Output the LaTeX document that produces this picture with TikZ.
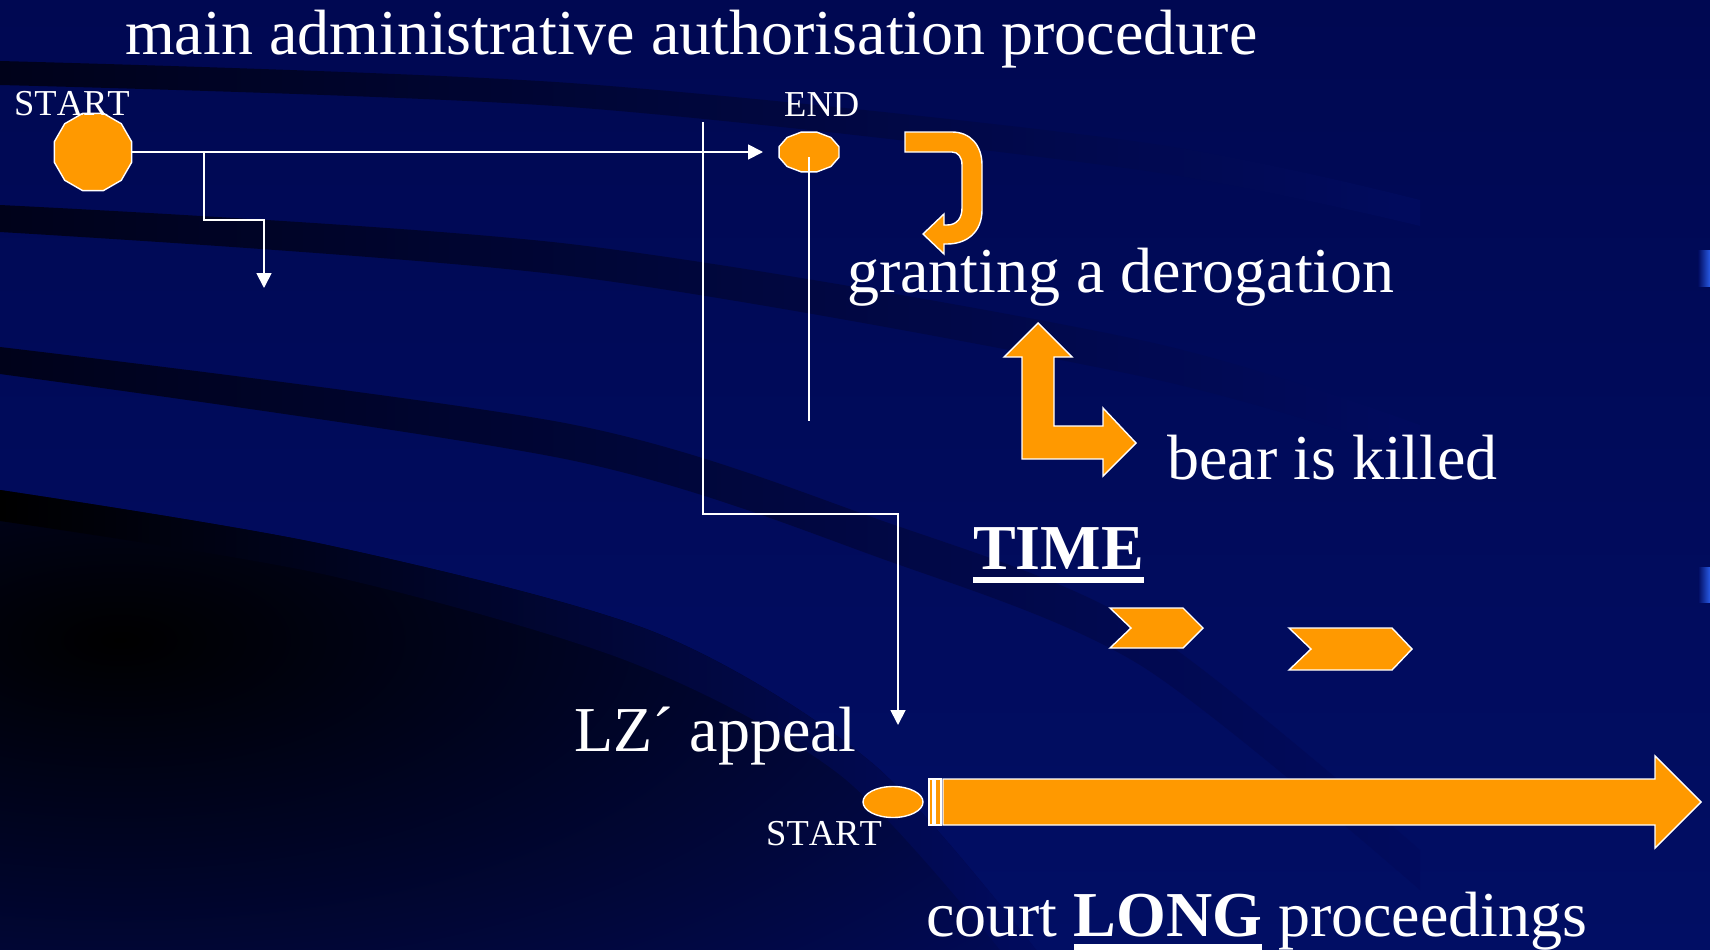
\documentclass[tikz,border=0pt]{standalone}
\usepackage{fontspec}
\setmainfont{Liberation Serif}
\newfontfamily\nokernfont[Kerning=Off]{Liberation Serif}
\usetikzlibrary{arrows.meta,calc,shapes.geometric}
\definecolor{bg}{RGB}{1,11,94}
\definecolor{bgtop}{RGB}{0,8,82}
\definecolor{bgbot}{RGB}{1,14,100}
\definecolor{dark}{RGB}{0,2,26}
\definecolor{org}{RGB}{255,153,0}
\definecolor{edgeblue}{RGB}{40,90,230}
\newcommand\myul[1]{\setbox0\hbox{#1}\rlap{\rule[-14pt]{\wd0}{6pt}}\box0\relax}
\begin{document}
\begin{tikzpicture}[x=1pt,y=-1pt,
  wire/.style={draw=white,line width=1.8pt},
  tipped/.style={-{Triangle[length=15pt,width=15pt]}},
  shp/.style={fill=org,draw=white,line width=1.4pt,line join=miter},
  big/.style={text=white,inner sep=0pt,anchor=base west,font=\fontsize{64}{70}\selectfont},
  small/.style={text=white,inner sep=0pt,anchor=base west,font=\nokernfont\fontsize{36.5}{40}\selectfont},
]
\useasboundingbox (0,0) rectangle (1710,950);
% background
\shade[top color=bgtop,bottom color=bgbot] (0,0) rectangle (1710,950);
\begin{scope}
\clip plot[smooth] coordinates {(0,490) (327,545) (654,632) (872,763) (1036,950)} -- (0,950) -- cycle;
\shade[inner color=black,outer color=bg] (120,640) ellipse [x radius=1250, y radius=560];
\end{scope}
\shade[left color=dark,middle color=dark!60!bg,right color=bg]
  plot[smooth] coordinates {(0,61) (570,83) (1140,142) (1420,200)} --
  plot[smooth] coordinates {(1420,226) (1140,170) (570,107) (0,85)} -- cycle;
\shade[left color=dark,middle color=dark!60!bg,right color=bg]
  plot[smooth] coordinates {(0,205) (570,244) (1140,340) (1420,425)} --
  plot[smooth] coordinates {(1420,455) (1140,376) (570,276) (0,232)} -- cycle;
\shade[left color=dark,middle color=dark!55!bg,right color=bg]
  plot[smooth] coordinates {(0,347) (570,424) (880,520) (1140,625) (1420,850)} --
  plot[smooth] coordinates {(1420,890) (1140,665) (880,558) (570,460) (0,374)} -- cycle;
\shade[left color=black,middle color=dark!70!bg,right color=bg]
  plot[smooth] coordinates {(0,490) (327,545) (654,632) (872,763) (1036,950)} --
  plot[smooth] coordinates {(1000,950) (840,775) (630,662) (327,575) (0,521)} -- cycle;
\shade[left color=bg,right color=edgeblue] (1698,250) rectangle (1710,286);
\shade[left color=bg,right color=edgeblue] (1698,567) rectangle (1710,602);

% shapes
\node[regular polygon, regular polygon sides=12, minimum size=80pt, inner sep=0pt, shp] (s1) at (93,152) {};
\draw[shp] plot[samples at={15,45,...,345}, variable=\t] ({809+31*cos(\t)},{152+20.5*sin(\t)}) -- cycle;
\coordinate (endc) at (809,157);
\node[ellipse, minimum width=60pt, minimum height=31pt, inner sep=0pt, shp] (s2) at (893,802) {};

% hook arrow
\draw[shp] (905,132) -- (952,132) .. controls (970,132) and (982,145) .. (982,165) -- (982,210)
  .. controls (982,232) and (967,244) .. (947,244) -- (944,244) -- (944,254) -- (923,234)
  -- (944,214) -- (944,225) -- (947,225) .. controls (957,225) and (962,218) .. (962,208)
  -- (962,165) .. controls (962,157) and (958,152) .. (952,152) -- (905,152) -- cycle;
% L arrow
\draw[shp] (1038,323) -- (1072,357) -- (1054,357) -- (1054,426) -- (1103,426) -- (1103,408)
  -- (1136,443) -- (1103,476) -- (1103,459) -- (1022,459) -- (1022,357) -- (1004,357) -- cycle;
% chevrons
\draw[shp] (1110,608) -- (1183,608) -- (1203,628) -- (1183,648) -- (1110,648) -- (1131,628) -- cycle;
\draw[shp] (1289,628) -- (1392,628) -- (1412,649) -- (1392,670) -- (1289,670) -- (1311,649) -- cycle;
% striped arrow
\draw[shp,line width=1.2pt] (929,779) rectangle (933,825);
\draw[shp,line width=1.2pt] (935,779) rectangle (941,825);
\draw[shp] (943,779) -- (1655,779) -- (1655,756) -- (1701,802) -- (1655,848) -- (1655,825) -- (943,825) -- cycle;

% connectors
\coordinate (t1) at (763,152);
\coordinate (b1) at (204,152);
\coordinate (k2) at (204,220);
\coordinate (t2) at (264,288);
\coordinate (v1) at (703,122);
\coordinate (k3) at (703,514);
\coordinate (t3) at (898,725);
\coordinate (e2) at (809,421);
\draw[wire,tipped] (s1.east) -- (t1);
\draw[wire,tipped] (b1) -- (k2) -| (t2);
\draw[wire,tipped] (v1) -- (k3) -| (t3);
\draw[wire] (endc) -- (e2);

% texts
\node[big] (title) at (125,55) {main administrative authorisation procedure};
\node[small] (lstart) at (14,115) {START};
\node[small] (lend) at (784,116) {END};
\node[big] (grant) at (847,292) {granting a derogation};
\node[big] (bear) at (1167,479) {bear is killed};
\node[big,font=\fontsize{64}{70}\selectfont\bfseries] (time) at (973,569) {\myul{TIME}};
\node[big] (lz) at (574,751) {LZ´ appeal};
\node[small] (bstart) at (766,845) {START};
\node[big] (court) at (926,936) {court \myul{\bfseries LONG} proceedings};
\end{tikzpicture}
\end{document}
